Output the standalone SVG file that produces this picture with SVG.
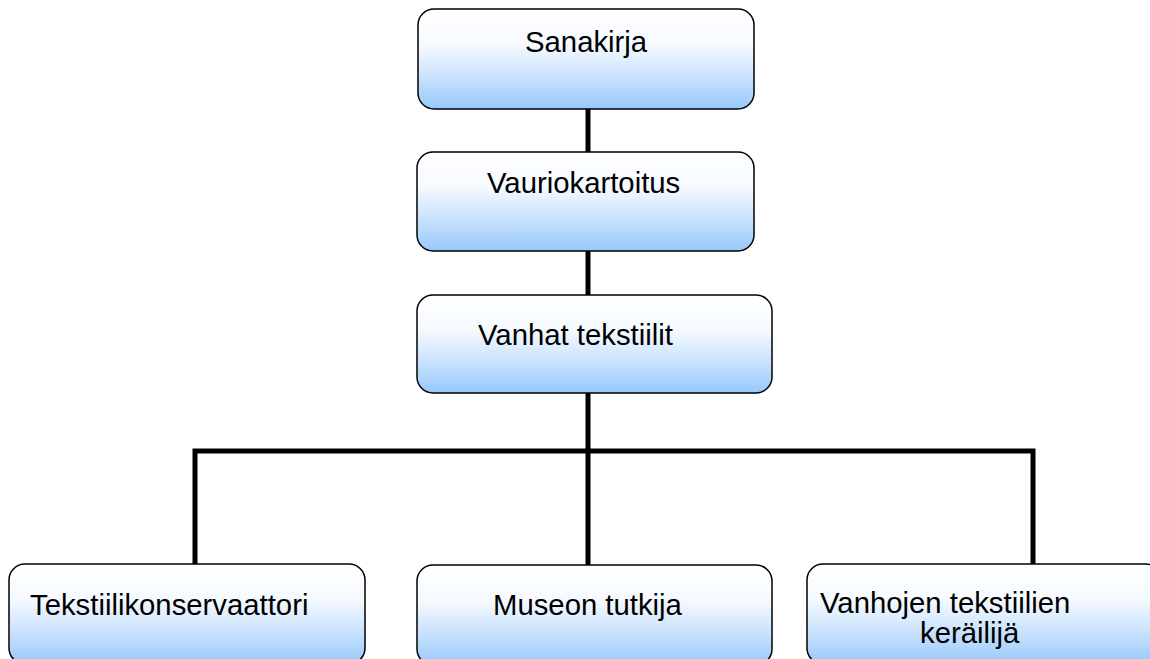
<svg xmlns="http://www.w3.org/2000/svg" width="1150" height="659" viewBox="0 0 1150 659">
<defs>
<linearGradient id="g" x1="0" y1="0" x2="0" y2="1">
<stop offset="0" stop-color="#ffffff"/>
<stop offset="0.35" stop-color="#f6faff"/>
<stop offset="0.7" stop-color="#c6e0fd"/>
<stop offset="1" stop-color="#97c8fb"/>
</linearGradient>
<style>
.box{fill:url(#g);stroke:#000;stroke-width:1.5}
.t{font-family:"Liberation Sans",Arial,sans-serif;font-size:29.3px;fill:#000}
.c{fill:none;stroke:#000;stroke-width:5;stroke-linecap:square}
</style>
</defs>
<rect width="1150" height="659" fill="#fff"/>
<g id="connectors">
<path class="c" d="M588 110V151"/>
<path class="c" d="M588 252V294"/>
<path class="c" d="M588 394V563"/>
<path class="c" d="M195 563V451H1033V563"/>
</g>
<g id="n1"><rect class="box" x="418" y="9" width="336" height="100" rx="16"/><text class="t" x="525" y="52">Sanakirja</text></g>
<g id="n2"><rect class="box" x="417" y="152" width="337" height="99" rx="16"/><text class="t" x="487" y="193">Vauriokartoitus</text></g>
<g id="n3"><rect class="box" x="417" y="295" width="355" height="98" rx="16"/><text class="t" x="478" y="345">Vanhat tekstiilit</text></g>
<g id="n4"><rect class="box" x="9" y="564" width="356" height="100" rx="16"/><text class="t" x="30" y="615">Tekstiilikonservaattori</text></g>
<g id="n5"><rect class="box" x="417" y="565" width="355" height="100" rx="16"/><text class="t" x="493" y="615">Museon tutkija</text></g>
<g id="n6"><rect class="box" x="807" y="564" width="355" height="100" rx="16"/><text class="t" x="820" y="613">Vanhojen tekstiilien</text><text class="t" x="920" y="643">keräilijä</text></g>
</svg>
